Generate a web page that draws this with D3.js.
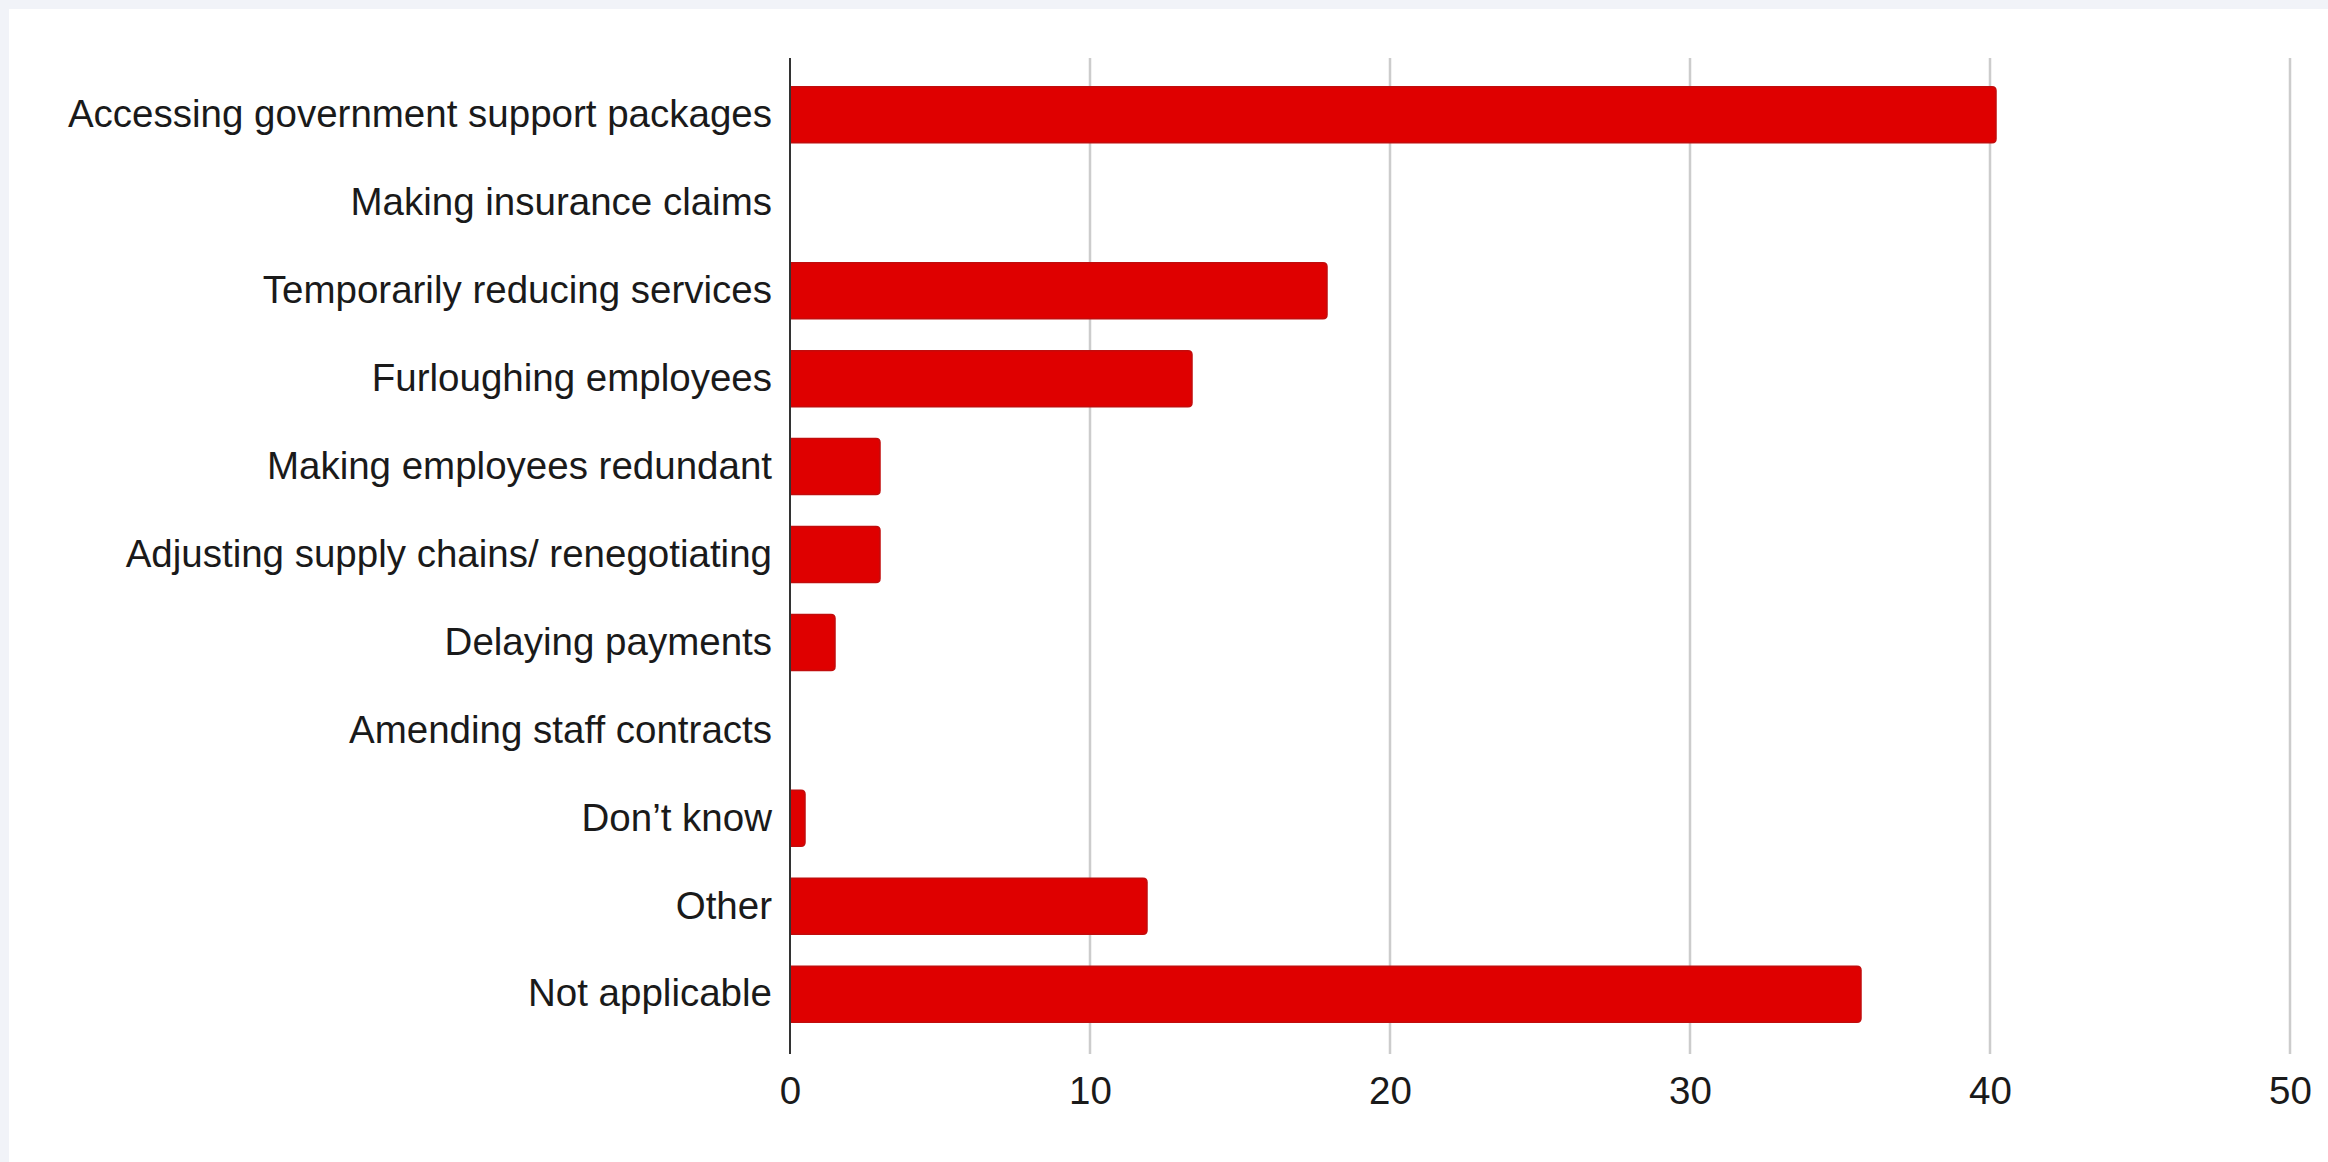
<!DOCTYPE html>
<html>
<head>
<meta charset="utf-8">
<script src="https://cdn.jsdelivr.net/npm/d3@7"></script>
<style>
	html, body { margin: 0; padding: 0; background: #f1f3f8; }
	svg { display: block; }
</style>
</head>
<body>
<div id="chart"></div>
<script>
var categories = [
	'Accessing government support packages',
	'Making insurance claims',
	'Temporarily reducing services',
	'Furloughing employees',
	'Making employees redundant',
	'Adjusting supply chains/ renegotiating',
	'Delaying payments',
	'Amending staff contracts',
	'Don\u2019t know',
	'Other',
	'Not applicable'
]
var values = [40.2, 0, 17.9, 13.4, 3.0, 3.0, 1.5, 0, 0.5, 11.9, 35.7]
var ticks = [0, 10, 20, 30, 40, 50]

var chart = {}
chart.width = 2328
chart.height = 1162
chart.font_family = '"Liberation Sans", Arial, sans-serif'
chart.font_size = 38.5
chart.bar_color = '#df0000'

var svg = d3.select('#chart')
	.append('svg')
	.attr('width', chart.width)
	.attr('height', chart.height)

// white panel, leaves a thin grey frame top and left
svg.append('rect')
	.attr('x', 9)
	.attr('y', 9)
	.attr('width', chart.width - 9)
	.attr('height', chart.height - 9)
	.attr('fill', '#ffffff')

var x = d3.scaleLinear()
	.domain([0, 50])
	.range([790, 2290])

var y = d3.scaleBand()
	.domain(categories)
	.range([71, 1038])
	.paddingInner(0.363)
	.paddingOuter(0.18)

var plotTop = 58,
	plotBottom = 1054

// gridlines
svg.append('g')
	.attr('class', 'grid')
	.selectAll('line')
	.data(ticks.filter(function(d){ return d > 0 }))
	.enter()
	.append('line')
	.attr('x1', function(d){ return x(d) })
	.attr('x2', function(d){ return x(d) })
	.attr('y1', plotTop)
	.attr('y2', plotBottom)
	.attr('stroke', '#cccccc')
	.attr('stroke-width', 2.5)

// bars, rounded on the right end only
var r = 4
svg.append('g')
	.attr('class', 'bars')
	.selectAll('path')
	.data(values.map(function(v, i){ return {n: categories[i], v: v} }).filter(function(d){ return d.v > 0 }))
	.enter()
	.append('path')
	.attr('d', function(d){
		var x0 = x(0), x1 = x(d.v), y0 = y(d.n), h = y.bandwidth()
		var rr = Math.min(r, (x1 - x0) / 2)
		return 'M' + x0 + ',' + y0 +
			'H' + (x1 - rr) +
			'Q' + x1 + ',' + y0 + ' ' + x1 + ',' + (y0 + rr) +
			'V' + (y0 + h - rr) +
			'Q' + x1 + ',' + (y0 + h) + ' ' + (x1 - rr) + ',' + (y0 + h) +
			'H' + x0 + 'Z'
	})
	.attr('fill', chart.bar_color)
	.attr('stroke', '#c20c0c')
	.attr('stroke-width', 1.5)

// zero axis line
svg.append('line')
	.attr('x1', x(0))
	.attr('x2', x(0))
	.attr('y1', plotTop)
	.attr('y2', plotBottom)
	.attr('stroke', '#333333')
	.attr('stroke-width', 2)

// category labels
var yAxis = d3.axisLeft(y).tickSize(0).tickPadding(18)
var gy = svg.append('g')
	.attr('transform', 'translate(' + x(0) + ',0)')
	.call(yAxis)
gy.select('.domain').remove()
gy.selectAll('text')
	.attr('fill', '#1a1a1a')
	.style('font-family', chart.font_family)
	.style('font-size', chart.font_size + 'px')

// value tick labels
var xAxis = d3.axisBottom(x).tickValues(ticks).tickSize(0).tickPadding(0)
var gx = svg.append('g')
	.attr('transform', 'translate(0,1077)')
	.call(xAxis)
gx.select('.domain').remove()
gx.selectAll('text')
	.attr('dy', '0.71em')
	.attr('fill', '#1a1a1a')
	.style('font-family', chart.font_family)
	.style('font-size', chart.font_size + 'px')
</script>
</body>
</html>
